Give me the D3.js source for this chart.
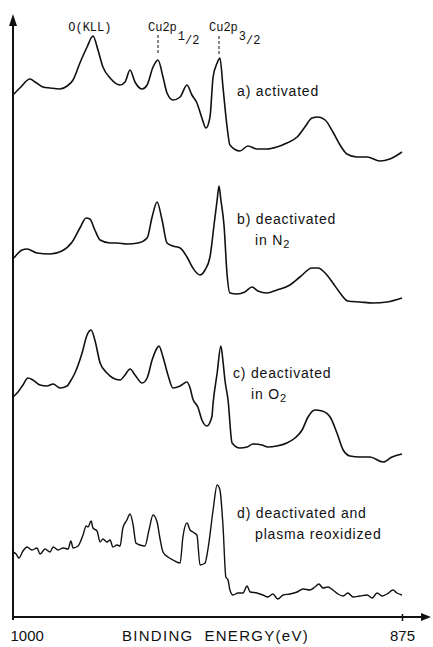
<!DOCTYPE html>
<html><head><meta charset="utf-8">
<script src="https://cdn.jsdelivr.net/npm/d3@7"></script>
<style>
html,body{margin:0;padding:0;background:#fff;}
svg{display:block;}
</style></head>
<body>
<svg id="chart" width="433" height="647"></svg>
<script>
// Binding energy (eV) and intensity (arbitrary units, offset per trace)
const specA_E = [999.7,997.8,994.5,992.9,990.4,988.1,984.9,982.6,980.7,978.5,976.2,974.3,972.7,971.1,968.8,965.6,964.0,962.4,960.8,958.5,956.9,955.0,953.4,951.8,950.5,948.6,946.3,944.1,942.5,940.9,939.3,938.0,936.7,935.7,934.4,933.5,932.5,931.2,930.3,927.1,924.5,921.6,918.4,915.2,912.0,908.7,906.2,903.9,902.0,899.7,897.2,894.9,892.7,889.5,886.2,882.1,878.9,875.0];
const specA_I = [523,529,538,535,530,529,528,531,537,554,570,581,567,550,539,532,535,547,535,528,532,550,557,540,524,517,520,532,522,514,499,489,500,540,554,559,529,490,472,466,471,468,468,470,474,480,490,499,500,497,485,472,463,460,460,456,458,465];

const specB_E = [999.7,997.1,995.5,992.3,988.1,984.3,981.0,978.5,976.5,975.3,973.7,972.0,968.8,966.6,963.4,959.8,956.9,955.3,953.7,952.1,950.5,948.6,946.3,944.1,942.2,939.9,938.3,936.7,935.4,934.4,933.8,933.2,932.2,931.2,930.3,928.0,925.5,923.2,921.3,918.4,915.2,911.0,907.8,903.9,902.0,899.7,897.2,894.9,892.4,888.5,884.3,879.8,875.0];
const specB_I = [359,367,368,364,363,366,375,389,399,398,387,377,374,374,373,374,379,400,415,397,374,371,369,360,349,342,347,360,392,417,431,417,392,342,324,323,325,330,326,324,327,332,340,349,349,344,334,324,316,315,314,315,319];

const specC_E = [1000.0,998.4,996.8,995.2,993.6,991.3,989.1,987.1,984.9,982.6,981.7,980.1,977.8,976.2,974.9,973.7,972.0,969.8,967.9,965.6,964.0,962.4,960.8,958.5,956.9,955.3,953.7,953.1,951.8,950.2,948.6,946.3,944.1,943.1,942.2,940.6,939.3,937.7,936.1,935.7,934.4,933.2,932.5,931.9,930.9,929.6,927.1,924.8,922.9,920.0,918.1,915.2,912.0,909.4,907.1,905.2,903.0,900.7,898.1,895.9,893.9,891.7,888.5,885.3,881.1,878.2,875.0];
const specC_I = [220,225,232,239,237,232,231,233,229,231,235,244,264,282,287,277,254,244,239,237,242,248,242,234,239,257,269,271,260,242,229,231,235,229,218,210,197,191,200,214,244,271,255,237,217,174,169,170,173,172,170,171,174,179,187,200,207,206,200,184,167,161,160,160,155,160,163];

const specD_E = [1000.0,999.0,998.1,996.8,995.5,993.9,992.3,991.3,989.7,988.1,987.1,985.5,983.9,982.3,981.4,980.7,979.1,977.5,976.5,975.9,974.9,974.3,973.0,972.0,971.1,969.8,968.8,967.9,966.6,965.6,964.7,963.4,962.4,961.4,960.5,959.2,957.6,956.3,955.0,953.7,952.8,951.8,950.2,948.6,946.3,945.4,944.1,943.1,942.2,940.9,939.9,938.3,937.3,935.7,934.4,933.5,932.5,931.6,930.9,930.3,929.3,927.7,926.1,924.8,923.8,921.6,919.7,918.1,916.5,914.9,913.2,911.0,908.7,906.8,904.6,903.0,901.7,900.4,898.8,897.2,895.6,893.9,892.4,890.7,888.5,886.2,884.6,883.0,881.4,879.8,877.9,876.6,875.0];
const specD_I = [65,63,59,66,70,67,69,63,68,65,70,67,69,68,76,69,71,82,91,90,96,89,86,75,78,75,77,70,72,71,89,97,103,92,74,72,71,87,102,95,79,65,60,57,54,80,94,87,85,82,52,54,69,107,132,127,90,40,37,27,22,24,24,31,25,24,22,20,23,18,22,23,25,28,27,30,33,29,30,27,23,21,24,20,21,22,19,24,21,23,27,24,22];

const traceLabels = [
  {lines:[["a) activated"]], E:928.0, I:521},
  {lines:[["b) deactivated"],["in N","2"]], E:928.0, I:393},
  {lines:[["c) deactivated"],["in O","2"]], E:929.3, I:239},
  {lines:[["d) deactivated and"],["plasma reoxidized"]], E:928.0, I:99}
];
const peakNames = [
  {name:"O(KLL)", E:975.3, sub:null},
  {name:"Cu2p", E:953.4, sub:["1","/2"]},
  {name:"Cu2p", E:933.8, sub:["3","/2"]}
];
const markerLines = [{E:953.4, top:582, bottom:562},{E:933.8, top:581, bottom:563}];
const xTicks = [1000, 875];
const xTitle = "BINDING  ENERGY(eV)";

const svg = d3.select("#chart");
const x = d3.scaleLinear().domain([1000, 875]).range([13, 402]);
const y = d3.scaleLinear().domain([0, 600]).range([617, 17]);
const ink = "#111";

const line = d3.line().x(d => x(d[0])).y(d => y(d[1])).curve(d3.curveMonotoneX);
const series = [[specA_E,specA_I],[specB_E,specB_I],[specC_E,specC_I],[specD_E,specD_I]];
series.forEach(([E,I], k) => {
  const pts = E.map((e,i) => [e, I[i]]);
  svg.append("path").datum(pts).attr("d", line)
    .attr("fill","none").attr("stroke",ink)
    .attr("stroke-width", k===3 ? 1.4 : 1.6).attr("stroke-linejoin","round");
});

// axes
const xAxis = d3.axisBottom(x).tickValues(xTicks).tickSize(4).tickSizeOuter(0).tickPadding(15)
  .tickFormat(d3.format("d"));
const gx = svg.append("g").attr("transform","translate(0,617)").call(xAxis);
gx.select(".domain").remove();
gx.selectAll(".tick line").attr("stroke",ink).attr("stroke-width",1.5).attr("y1",-3);
gx.selectAll(".tick").filter(d => d===1000).select("line").remove();
gx.selectAll(".tick text").attr("fill",ink).attr("y",24).attr("dy","0")
  .style("font-family","'Liberation Sans', Arial, sans-serif").style("font-size","15px");
gx.selectAll(".tick").filter(d => d===1000).select("text").attr("text-anchor","start").attr("x",-3);

svg.append("line").attr("x1",x(1000)).attr("x2",424).attr("y1",617).attr("y2",617)
  .attr("stroke",ink).attr("stroke-width",2);
svg.append("path").attr("d","M431,617 L421,613 L421,621 Z").attr("fill",ink);
svg.append("line").attr("x1",x(1000)).attr("x2",x(1000)).attr("y1",620).attr("y2",24)
  .attr("stroke",ink).attr("stroke-width",2);
svg.append("path").attr("d",`M${x(1000)},14 L${x(1000)-4},26 L${x(1000)+4},26 Z`).attr("fill",ink);

svg.append("text").attr("x",(x(1000)+x(875))/2 + 8).attr("y",641)
  .attr("text-anchor","middle").attr("fill",ink)
  .style("font-family","'Liberation Sans', Arial, sans-serif").style("font-size","15px")
  .style("letter-spacing","1.3px").style("white-space","pre").text(xTitle);

// dashed markers
markerLines.forEach(m => {
  svg.append("line").attr("x1",x(m.E)).attr("x2",x(m.E)).attr("y1",y(m.top)).attr("y2",y(m.bottom))
    .attr("stroke",ink).attr("stroke-width",1).attr("stroke-dasharray","3,2");
});

// peak names
peakNames.forEach(p => {
  const t = svg.append("text").attr("y",31).attr("fill",ink)
    .style("font-family","'Liberation Mono', 'DejaVu Sans Mono', monospace").style("font-size","12px");
  if (!p.sub) {
    t.attr("x", x(p.E)).attr("text-anchor","middle").text(p.name);
  } else {
    t.attr("x", x(p.E) - 10);
    t.append("tspan").text(p.name);
    t.append("tspan").attr("dy",9).attr("dx",1).text(p.sub[0]);
    t.append("tspan").attr("dy",4).text(p.sub[1]);
  }
});

// trace labels
traceLabels.forEach(L => {
  L.lines.forEach((ln, j) => {
    const t = svg.append("text").attr("x", x(L.E) + (j ? 18 : 0)).attr("y", y(L.I) + j*21)
      .attr("fill",ink).style("font-family","'Liberation Sans', Arial, sans-serif")
      .style("font-size","14px").style("letter-spacing","0.8px");
    t.append("tspan").text(ln[0]);
    if (ln[1]) t.append("tspan").attr("dy",3).style("font-size","11px").text(ln[1]);
  });
});
</script>
</body></html>
